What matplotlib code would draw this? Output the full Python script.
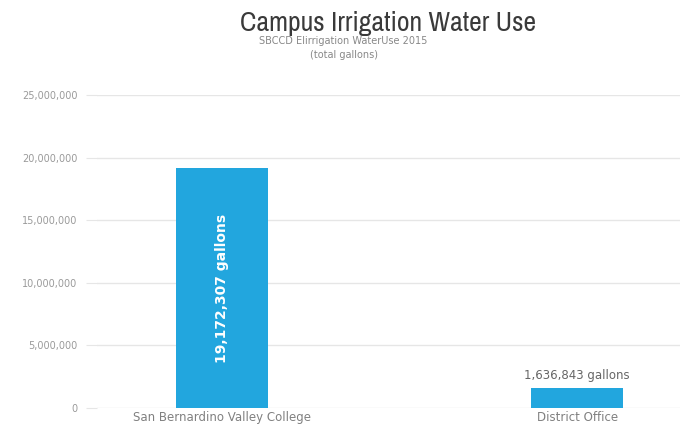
import matplotlib
matplotlib.use("Agg")
import matplotlib.pyplot as plt
from matplotlib.ticker import FuncFormatter
from matplotlib import font_manager
import os

categories = ["San Bernardino Valley College", "District Office"]
values = [19172307, 1636843]
value_labels = ["19,172,307 gallons", "1,636,843 gallons"]
yticks = [0, 5000000, 10000000, 15000000, 20000000, 25000000]

cond = None
cands = []
for f in font_manager.fontManager.ttflist:
    b = os.path.basename(f.fname)
    if ("Condensed" in b or "Narrow" in b) and "Bold" not in b and "Oblique" not in b \
            and "Italic" not in b and "Mono" not in b and "Serif" not in b:
        cands.append(f.fname)
cands.sort(key=lambda p: (0 if "Narrow" in p else 1, len(p)))
if cands:
    cond = cands[0]

fig = plt.figure(figsize=(6.87, 4.30), dpi=100)
ax = fig.add_axes([0.141, 0.051, 0.849, 0.728])

x = list(range(len(categories)))
bars = ax.bar(x, values, width=0.26, color="#22a6de", zorder=3)

ax.set_xlim(-0.352, 1.29)
ax.set_ylim(0, 25000000)
ax.set_yticks(yticks)
ax.yaxis.set_major_formatter(FuncFormatter(lambda v, p: f"{int(v):,}"))
ax.grid(axis="y", color="#e6e6e6", linewidth=1.0, zorder=0)
for s in ax.spines.values():
    s.set_visible(False)
ax.tick_params(axis="y", length=8, color="#e6e6e6", labelcolor="#9a9a9a",
               labelsize=7, pad=6)
ax.set_xticks(x)
ax.set_xticklabels(categories)
ax.tick_params(axis="x", length=0, labelcolor="#808080", labelsize=8.5, pad=2)

ax.text(x[0], values[0] / 2, value_labels[0], rotation=90, ha="center",
        va="center", color="white", fontsize=10, fontweight="bold", zorder=4)
ax.text(x[1], values[1] + 450000, value_labels[1], ha="center", va="bottom",
        color="#666666", fontsize=8.5, zorder=4)

if cond:
    fp = font_manager.FontProperties(fname=cond, size=20)
    fig.text(0.565, 0.945, "Campus Irrigation Water Use", ha="center", va="center",
             fontproperties=fp, color="#3a3a3a")
else:
    fig.text(0.565, 0.945, "Campus Irrigation Water Use", ha="center", va="center",
             fontsize=15, color="#3a3a3a")
fig.text(0.50, 0.888, "SBCCD EIirrigation WaterUse 2015\n(total gallons)",
         ha="center", va="center", fontsize=7, color="#888888", linespacing=1.5)

fig.savefig("out.png", dpi=100)
